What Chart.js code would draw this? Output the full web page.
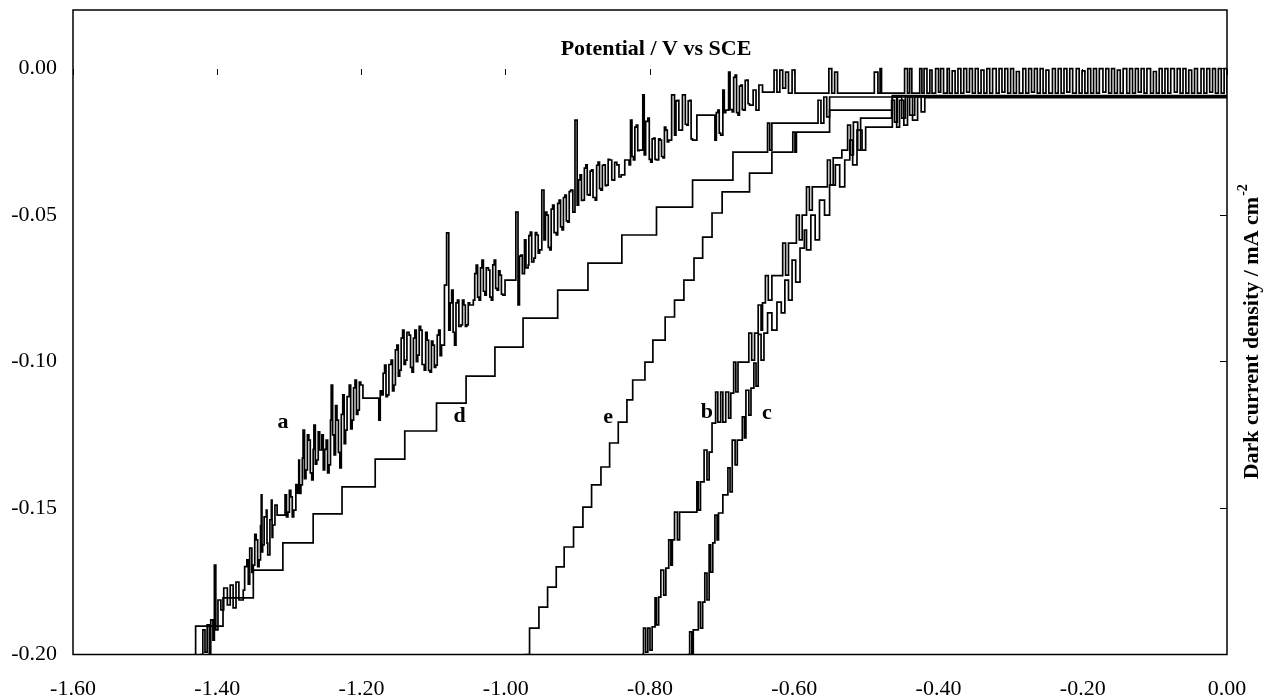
<!DOCTYPE html>
<html>
<head>
<meta charset="utf-8">
<script src="https://cdn.jsdelivr.net/npm/chart.js@4.4.1/dist/chart.umd.min.js"></script>
<style>
  html, body { margin: 0; padding: 0; background: #fff; }
  #wrap { width: 1267px; height: 700px; }
</style>
</head>
<body>
<div id="wrap"><canvas id="chart" width="1267" height="700"></canvas></div>
<script>
// potential (V vs SCE), current density (mA cm-2)
const curveA = [
  [-1.424, -0.2000], [-1.420, -0.1916], [-1.417, -0.1992], [-1.414, -0.1899], [-1.411, -0.1995],
  [-1.409, -0.1882], [-1.406, -0.1951], [-1.404, -0.1695], [-1.402, -0.1916], [-1.399, -0.1814],
  [-1.395, -0.1848], [-1.391, -0.1773], [-1.386, -0.1831], [-1.382, -0.1763], [-1.378, -0.1841],
  [-1.374, -0.1753], [-1.370, -0.1814], [-1.364, -0.1780], [-1.362, -0.1700], [-1.359, -0.1677],
  [-1.357, -0.1760], [-1.355, -0.1637], [-1.352, -0.1720], [-1.350, -0.1695], [-1.348, -0.1590],
  [-1.346, -0.1609], [-1.344, -0.1700], [-1.342, -0.1677], [-1.340, -0.1560], [-1.339, -0.1455],
  [-1.338, -0.1650], [-1.337, -0.1626], [-1.335, -0.1530], [-1.332, -0.1507], [-1.331, -0.1620],
  [-1.330, -0.1660], [-1.327, -0.1540], [-1.325, -0.1473], [-1.324, -0.1600], [-1.323, -0.1558],
  [-1.320, -0.1490], [-1.317, -0.1524], [-1.309, -0.1524], [-1.306, -0.1455], [-1.304, -0.1530],
  [-1.302, -0.1514], [-1.300, -0.1440], [-1.298, -0.1462], [-1.296, -0.1530], [-1.294, -0.1507],
  [-1.291, -0.1420], [-1.289, -0.1449], [-1.287, -0.1336], [-1.286, -0.1450], [-1.284, -0.1421],
  [-1.282, -0.1330], [-1.281, -0.1234], [-1.279, -0.1400], [-1.277, -0.1370], [-1.275, -0.1250],
  [-1.273, -0.1268], [-1.271, -0.1380], [-1.269, -0.1404], [-1.267, -0.1300], [-1.266, -0.1217],
  [-1.264, -0.1350], [-1.262, -0.1336], [-1.260, -0.1240], [-1.258, -0.1302], [-1.255, -0.1250],
  [-1.253, -0.1370], [-1.251, -0.1300], [-1.249, -0.1268], [-1.247, -0.1380], [-1.245, -0.1353],
  [-1.243, -0.1200], [-1.242, -0.1080], [-1.240, -0.1250], [-1.238, -0.1319], [-1.236, -0.1150],
  [-1.234, -0.1200], [-1.232, -0.1310], [-1.230, -0.1363], [-1.228, -0.1180], [-1.226, -0.1114],
  [-1.224, -0.1280], [-1.222, -0.1234], [-1.220, -0.1120], [-1.217, -0.1080], [-1.215, -0.1230],
  [-1.213, -0.1200], [-1.211, -0.1090], [-1.209, -0.1063], [-1.207, -0.1180], [-1.205, -0.1166],
  [-1.203, -0.1070], [-1.201, -0.1080], [-1.198, -0.1125], [-1.179, -0.1125], [-1.176, -0.1200],
  [-1.174, -0.1100], [-1.172, -0.1114], [-1.170, -0.1040], [-1.168, -0.1012], [-1.166, -0.1120],
  [-1.164, -0.1114], [-1.162, -0.1010], [-1.159, -0.0995], [-1.157, -0.1100], [-1.155, -0.1080],
  [-1.153, -0.0960], [-1.151, -0.0944], [-1.149, -0.1050], [-1.147, -0.1029], [-1.145, -0.0920],
  [-1.143, -0.0893], [-1.141, -0.1010], [-1.139, -0.0995], [-1.137, -0.0900], [-1.134, -0.0910],
  [-1.132, -0.1020], [-1.130, -0.1036], [-1.128, -0.0920], [-1.126, -0.0893], [-1.124, -0.1000],
  [-1.122, -0.0978], [-1.120, -0.0880], [-1.118, -0.0893], [-1.116, -0.1010], [-1.113, -0.1029],
  [-1.111, -0.0900], [-1.109, -0.0927], [-1.107, -0.1030], [-1.105, -0.1036], [-1.103, -0.0930],
  [-1.101, -0.0944], [-1.099, -0.1020], [-1.097, -0.1012], [-1.095, -0.0910], [-1.093, -0.0893],
  [-1.091, -0.0980], [-1.089, -0.0944], [-1.085, -0.0739], [-1.082, -0.0561], [-1.079, -0.0893],
  [-1.077, -0.0800], [-1.075, -0.0756], [-1.073, -0.0900], [-1.071, -0.0944], [-1.069, -0.0800],
  [-1.067, -0.0790], [-1.065, -0.0880], [-1.062, -0.0875], [-1.060, -0.0790], [-1.058, -0.0807],
  [-1.056, -0.0880], [-1.054, -0.0875], [-1.052, -0.0800], [-1.050, -0.0807], [-1.045, -0.0790],
  [-1.043, -0.0700], [-1.041, -0.0671], [-1.039, -0.0780], [-1.037, -0.0790], [-1.035, -0.0680],
  [-1.033, -0.0654], [-1.031, -0.0760], [-1.029, -0.0773], [-1.027, -0.0680], [-1.024, -0.0688],
  [-1.022, -0.0780], [-1.020, -0.0790], [-1.018, -0.0670], [-1.016, -0.0654], [-1.014, -0.0750],
  [-1.012, -0.0756], [-1.010, -0.0690], [-1.008, -0.0705], [-1.006, -0.0770], [-1.004, -0.0773],
  [-1.001, -0.0722], [-0.987, -0.0722], [-0.986, -0.0490], [-0.983, -0.0807], [-0.981, -0.0640],
  [-0.979, -0.0637], [-0.977, -0.0700], [-0.974, -0.0585], [-0.972, -0.0680], [-0.969, -0.0671],
  [-0.968, -0.0570], [-0.966, -0.0558], [-0.964, -0.0660], [-0.961, -0.0647], [-0.959, -0.0560],
  [-0.957, -0.0568], [-0.955, -0.0630], [-0.953, -0.0619], [-0.950, -0.0415], [-0.947, -0.0585],
  [-0.945, -0.0490], [-0.943, -0.0500], [-0.941, -0.0610], [-0.939, -0.0619], [-0.937, -0.0480],
  [-0.935, -0.0466], [-0.933, -0.0560], [-0.930, -0.0568], [-0.928, -0.0460], [-0.926, -0.0449],
  [-0.924, -0.0540], [-0.922, -0.0551], [-0.920, -0.0440], [-0.918, -0.0432], [-0.916, -0.0520],
  [-0.914, -0.0524], [-0.912, -0.0420], [-0.910, -0.0415], [-0.907, -0.0490], [-0.904, -0.0176],
  [-0.901, -0.0466], [-0.899, -0.0380], [-0.897, -0.0363], [-0.895, -0.0450], [-0.893, -0.0449],
  [-0.891, -0.0340], [-0.889, -0.0329], [-0.887, -0.0430], [-0.885, -0.0432], [-0.883, -0.0350],
  [-0.881, -0.0346], [-0.879, -0.0440], [-0.876, -0.0449], [-0.874, -0.0330], [-0.872, -0.0319],
  [-0.870, -0.0410], [-0.868, -0.0415], [-0.866, -0.0330], [-0.864, -0.0329], [-0.862, -0.0400],
  [-0.860, -0.0398], [-0.858, -0.0310], [-0.856, -0.0312], [-0.853, -0.0380], [-0.851, -0.0381],
  [-0.849, -0.0320], [-0.846, -0.0329], [-0.843, -0.0370], [-0.840, -0.0363], [-0.835, -0.0312],
  [-0.829, -0.0329], [-0.827, -0.0176], [-0.825, -0.0300], [-0.823, -0.0312], [-0.821, -0.0200],
  [-0.819, -0.0193], [-0.817, -0.0280], [-0.815, -0.0278], [-0.810, -0.0090], [-0.808, -0.0295],
  [-0.806, -0.0180], [-0.803, -0.0169], [-0.801, -0.0310], [-0.799, -0.0319], [-0.797, -0.0240],
  [-0.795, -0.0237], [-0.793, -0.0310], [-0.791, -0.0312], [-0.788, -0.0240], [-0.786, -0.0244],
  [-0.784, -0.0300], [-0.782, -0.0305], [-0.780, -0.0200], [-0.778, -0.0210], [-0.776, -0.0250],
  [-0.774, -0.0244], [-0.770, -0.0090], [-0.766, -0.0227], [-0.764, -0.0110], [-0.762, -0.0108],
  [-0.760, -0.0210], [-0.757, -0.0210], [-0.755, -0.0090], [-0.753, -0.0090], [-0.751, -0.0190],
  [-0.749, -0.0193], [-0.747, -0.0110], [-0.745, -0.0108], [-0.743, -0.0240], [-0.741, -0.0244],
  [-0.735, -0.0159], [-0.713, -0.0159], [-0.710, -0.0244], [-0.708, -0.0150], [-0.706, -0.0142],
  [-0.704, -0.0220], [-0.702, -0.0227], [-0.699, -0.0073], [-0.697, -0.0150], [-0.695, -0.0142],
  [-0.691, -0.0012], [-0.689, -0.0140], [-0.686, -0.0148], [-0.684, -0.0030], [-0.682, -0.0022],
  [-0.680, -0.0150], [-0.678, -0.0159], [-0.676, -0.0060], [-0.674, -0.0056], [-0.672, -0.0140],
  [-0.670, -0.0142], [-0.668, -0.0040], [-0.666, -0.0039], [-0.664, -0.0120], [-0.662, -0.0125],
  [-0.657, -0.0073], [-0.653, -0.0142], [-0.649, -0.0056], [-0.644, -0.0080], [-0.631, -0.0080],
  [-0.628, -0.0005], [-0.624, -0.0080], [-0.620, -0.0005], [-0.616, -0.0067], [-0.612, -0.0012],
  [-0.608, -0.0084], [-0.603, -0.0005], [-0.599, -0.0084], [-0.555, -0.0084], [-0.552, 0.0000],
  [-0.548, -0.0084], [-0.544, -0.0012], [-0.540, -0.0084], [-0.491, -0.0084], [-0.489, -0.0012],
  [-0.484, -0.0084], [-0.481, 0.0000], [-0.479, -0.0084], [-0.450, -0.0084], [-0.447, 0.0000],
  [-0.443, -0.0084], [-0.440, 0.0000], [-0.437, -0.0084], [-0.426, 0.0000], [-0.423, -0.0084],
  [-0.420, 0.0000], [-0.416, -0.0084], [-0.412, -0.0005], [-0.409, -0.0084], [-0.404, 0.0000],
  [-0.400, -0.0080], [-0.397, 0.0000], [-0.393, -0.0084], [-0.388, 0.0000], [-0.385, -0.0084],
  [-0.381, -0.0008], [-0.377, -0.0084], [-0.373, 0.0000], [-0.369, -0.0084], [-0.365, 0.0000],
  [-0.361, -0.0080], [-0.357, 0.0000], [-0.353, -0.0084], [-0.349, 0.0000], [-0.345, -0.0084],
  [-0.341, -0.0005], [-0.337, -0.0084], [-0.333, 0.0000], [-0.329, -0.0084], [-0.325, 0.0000],
  [-0.320, -0.0084], [-0.316, 0.0000], [-0.312, -0.0080], [-0.308, 0.0000], [-0.304, -0.0084],
  [-0.300, 0.0000], [-0.296, -0.0084], [-0.292, -0.0010], [-0.288, -0.0084], [-0.283, 0.0000],
  [-0.279, -0.0084], [-0.275, 0.0000], [-0.271, -0.0080], [-0.267, 0.0000], [-0.263, -0.0084],
  [-0.259, 0.0000], [-0.255, -0.0084], [-0.251, -0.0005], [-0.247, -0.0084], [-0.242, 0.0000],
  [-0.238, -0.0084], [-0.234, 0.0000], [-0.230, -0.0084], [-0.226, 0.0000], [-0.222, -0.0080],
  [-0.218, 0.0000], [-0.214, -0.0084], [-0.209, 0.0000], [-0.205, -0.0084], [-0.201, -0.0008],
  [-0.197, -0.0084], [-0.193, 0.0000], [-0.189, -0.0084], [-0.185, 0.0000], [-0.181, -0.0084],
  [-0.177, 0.0000], [-0.172, -0.0080], [-0.168, 0.0000], [-0.164, -0.0084], [-0.160, 0.0000],
  [-0.156, -0.0084], [-0.152, -0.0005], [-0.148, -0.0084], [-0.144, 0.0000], [-0.139, -0.0084],
  [-0.135, 0.0000], [-0.131, -0.0084], [-0.127, 0.0000], [-0.123, -0.0080], [-0.119, 0.0000],
  [-0.115, -0.0084], [-0.111, 0.0000], [-0.106, -0.0084], [-0.102, -0.0010], [-0.098, -0.0084],
  [-0.094, 0.0000], [-0.090, -0.0084], [-0.086, 0.0000], [-0.082, -0.0084], [-0.078, 0.0000],
  [-0.073, -0.0080], [-0.069, 0.0000], [-0.065, -0.0084], [-0.061, 0.0000], [-0.057, -0.0084],
  [-0.053, -0.0005], [-0.049, -0.0084], [-0.045, 0.0000], [-0.041, -0.0084], [-0.036, 0.0000],
  [-0.032, -0.0084], [-0.028, 0.0000], [-0.024, -0.0080], [-0.020, 0.0000], [-0.016, -0.0084],
  [-0.012, 0.0000], [-0.008, -0.0084], [-0.004, 0.0000], [0.000, -0.0084]
];

const curveB = [
  [-0.811, -0.2000], [-0.809, -0.1910], [-0.806, -0.1992], [-0.803, -0.1910], [-0.800, -0.1985],
  [-0.797, -0.1906], [-0.793, -0.1807], [-0.791, -0.1899], [-0.788, -0.1804], [-0.785, -0.1712],
  [-0.781, -0.1797], [-0.778, -0.1705], [-0.774, -0.1609], [-0.771, -0.1695], [-0.769, -0.1609],
  [-0.766, -0.1514], [-0.762, -0.1609], [-0.759, -0.1514], [-0.735, -0.1411], [-0.733, -0.1507],
  [-0.730, -0.1411], [-0.725, -0.1302], [-0.721, -0.1404], [-0.718, -0.1309], [-0.714, -0.1210],
  [-0.709, -0.1104], [-0.706, -0.1207], [-0.702, -0.1104], [-0.699, -0.1207], [-0.695, -0.1104],
  [-0.691, -0.1193], [-0.688, -0.1108], [-0.684, -0.1002], [-0.681, -0.1104], [-0.678, -0.1002],
  [-0.663, -0.0903], [-0.659, -0.0995], [-0.655, -0.0903], [-0.650, -0.0807], [-0.646, -0.0893],
  [-0.644, -0.0800], [-0.640, -0.0707], [-0.636, -0.0790], [-0.631, -0.0707], [-0.616, -0.0596],
  [-0.612, -0.0705], [-0.608, -0.0596], [-0.597, -0.0500], [-0.593, -0.0585], [-0.589, -0.0500],
  [-0.583, -0.0404], [-0.579, -0.0483], [-0.575, -0.0404], [-0.554, -0.0312], [-0.550, -0.0398],
  [-0.546, -0.0305], [-0.534, -0.0278], [-0.526, -0.0193], [-0.522, -0.0295], [-0.518, -0.0183],
  [-0.512, -0.0278], [-0.508, -0.0169], [-0.465, -0.0108], [-0.461, -0.0183], [-0.457, -0.0097],
  [-0.451, -0.0169], [-0.446, -0.0094], [-0.440, -0.0159], [-0.433, -0.0096], [0.000, -0.0096]
];

const curveC = [
  [-0.748, -0.2000], [-0.745, -0.1923], [-0.742, -0.2000], [-0.740, -0.1916], [-0.733, -0.1821],
  [-0.730, -0.1910], [-0.727, -0.1821], [-0.724, -0.1722], [-0.721, -0.1814], [-0.718, -0.1626],
  [-0.716, -0.1719], [-0.713, -0.1619], [-0.710, -0.1524], [-0.707, -0.1609], [-0.705, -0.1517],
  [-0.699, -0.1455], [-0.692, -0.1363], [-0.689, -0.1445], [-0.686, -0.1268], [-0.682, -0.1353],
  [-0.679, -0.1268], [-0.672, -0.1189], [-0.669, -0.1261], [-0.667, -0.1098], [-0.663, -0.1183],
  [-0.660, -0.1091], [-0.656, -0.1005], [-0.653, -0.1084], [-0.650, -0.0907], [-0.646, -0.0995],
  [-0.642, -0.0903], [-0.637, -0.0834], [-0.631, -0.0893], [-0.624, -0.0797], [-0.618, -0.0834],
  [-0.613, -0.0722], [-0.608, -0.0790], [-0.603, -0.0654], [-0.598, -0.0729], [-0.592, -0.0613],
  [-0.586, -0.0551], [-0.583, -0.0619], [-0.577, -0.0500], [-0.571, -0.0585], [-0.565, -0.0449],
  [-0.558, -0.0500], [-0.551, -0.0398], [-0.543, -0.0329], [-0.537, -0.0404], [-0.530, -0.0312],
  [-0.523, -0.0244], [-0.519, -0.0329], [-0.513, -0.0210], [-0.506, -0.0278], [-0.501, -0.0200],
  [-0.464, -0.0097], [-0.458, -0.0200], [-0.454, -0.0108], [-0.448, -0.0193], [-0.443, -0.0097],
  [-0.436, -0.0176], [-0.429, -0.0097], [-0.424, -0.0148], [-0.419, -0.0099], [0.000, -0.0099]
];

const curveD = [
  [-1.431, -0.2000], [-1.430, -0.1903], [-1.392, -0.1807], [-1.350, -0.1712], [-1.309, -0.1619],
  [-1.267, -0.1520], [-1.227, -0.1428], [-1.181, -0.1333], [-1.140, -0.1237], [-1.096, -0.1142],
  [-1.055, -0.1050], [-1.015, -0.0951], [-0.976, -0.0852], [-0.928, -0.0756], [-0.886, -0.0664],
  [-0.839, -0.0568], [-0.791, -0.0473], [-0.741, -0.0381], [-0.685, -0.0285], [-0.637, -0.0186],
  [-0.634, -0.0278], [-0.631, -0.0186], [-0.567, -0.0108], [-0.563, -0.0186], [-0.559, -0.0097],
  [-0.555, -0.0165], [-0.551, -0.0097], [0.000, -0.0097]
];

const curveE = [
  [-0.974, -0.2000], [-0.967, -0.1910], [-0.954, -0.1838], [-0.942, -0.1770], [-0.930, -0.1701],
  [-0.919, -0.1633], [-0.906, -0.1565], [-0.893, -0.1497], [-0.881, -0.1421], [-0.868, -0.1360],
  [-0.856, -0.1278], [-0.844, -0.1207], [-0.832, -0.1131], [-0.824, -0.1063], [-0.807, -0.1002],
  [-0.796, -0.0927], [-0.779, -0.0848], [-0.766, -0.0790], [-0.753, -0.0722], [-0.739, -0.0647],
  [-0.727, -0.0575], [-0.714, -0.0493], [-0.700, -0.0421], [-0.662, -0.0357], [-0.631, -0.0285],
  [-0.602, -0.0217], [-0.599, -0.0285], [-0.597, -0.0217], [-0.551, -0.0142], [-0.464, -0.0092],
  [0.000, -0.0092]
];

const curveNames = ['a', 'b', 'c', 'd', 'e'];
const labelPotential = [-1.309, -0.721, -0.638, -1.064, -0.858];
const labelCurrent = [-0.1207, -0.1172, -0.1176, -0.1186, -0.1189];

const xTitle = 'Potential / V vs SCE';
const yTitle = 'Dark current density / mA cm';
const yTitleSup = '-2';

const serif = '"Liberation Serif", "Times New Roman", serif';

function toPoints(rows) {
  return rows.map(([x, y]) => ({ x: x, y: y }));
}

function fmt(v) {
  return (Math.abs(v) < 1e-9 ? 0 : v).toFixed(2);
}

const decor = {
  id: 'decor',
  afterDraw(chart) {
    const { ctx, chartArea, scales } = chart;
    ctx.save();
    ctx.strokeStyle = '#000';
    ctx.lineWidth = 1.5;
    ctx.strokeRect(chartArea.left, chartArea.top, chartArea.right - chartArea.left, chartArea.bottom - chartArea.top);

    ctx.fillStyle = '#000';
    ctx.font = 'bold 22px ' + serif;
    ctx.textAlign = 'center';
    ctx.textBaseline = 'alphabetic';
    ctx.fillText(xTitle, (chartArea.left + chartArea.right) / 2 + 6, scales.y.getPixelForValue(0) - 14);

    ctx.textBaseline = 'middle';
    curveNames.forEach((name, i) => {
      ctx.fillText(name, scales.x.getPixelForValue(labelPotential[i]), scales.y.getPixelForValue(labelCurrent[i]));
    });

    // right-hand axis title with superscript
    ctx.translate(chartArea.right + 23, scales.y.getPixelForValue(-0.09));
    ctx.rotate(-Math.PI / 2);
    ctx.font = 'bold 22px ' + serif;
    const w1 = ctx.measureText(yTitle).width;
    ctx.font = 'bold 14px ' + serif;
    const w2 = ctx.measureText(yTitleSup).width;
    const start = -(w1 + w2) / 2;
    ctx.textAlign = 'left';
    ctx.textBaseline = 'alphabetic';
    ctx.font = 'bold 22px ' + serif;
    ctx.fillText(yTitle, start, 8);
    ctx.font = 'bold 14px ' + serif;
    ctx.fillText(yTitleSup, start + w1 + 1, -3);
    ctx.restore();
  }
};

function lineSet(rows) {
  return {
    data: toPoints(rows),
    borderColor: '#000',
    borderWidth: 1.7,
    pointRadius: 0,
    fill: false,
    stepped: true
  };
}

function noPad(s) {
  s.paddingTop = 0;
  s.paddingBottom = 0;
  s.paddingLeft = 0;
  s.paddingRight = 0;
}

Chart.defaults.font.family = serif;
Chart.defaults.color = '#000';

new Chart(document.getElementById('chart'), {
  type: 'line',
  data: {
    datasets: [lineSet(curveA), lineSet(curveB), lineSet(curveC), lineSet(curveD), lineSet(curveE)]
  },
  options: {
    responsive: false,
    animation: false,
    layout: { padding: { top: 10, left: 0, right: 0, bottom: 0 } },
    plugins: { legend: { display: false }, tooltip: { enabled: false } },
    scales: {
      x: {
        type: 'linear',
        position: 'bottom',
        min: -1.6,
        max: 0,
        grid: { display: false, drawTicks: false },
        border: { display: false },
        ticks: { stepSize: 0.2, padding: 22, font: { size: 22 }, color: '#000', callback: v => fmt(v) },
        afterFit: s => { s.height = 45.5; noPad(s); }
      },
      x2: {
        type: 'linear',
        axis: 'x',
        position: { y: 0 },
        min: -1.6,
        max: 0,
        grid: { drawOnChartArea: false, drawTicks: true, tickLength: 6, color: '#000', lineWidth: 1 },
        border: { display: false },
        ticks: { display: false, stepSize: 0.2 },
        afterFit: s => { s.height = 0; noPad(s); }
      },
      y: {
        type: 'linear',
        position: 'left',
        min: -0.2,
        max: 0.02,
        grid: { display: false, drawTicks: false },
        border: { display: false },
        ticks: { stepSize: 0.05, padding: 16, font: { size: 22 }, color: '#000', callback: v => fmt(v) },
        afterBuildTicks: s => { s.ticks = s.ticks.filter(t => t.value <= 1e-9); },
        afterFit: s => { s.width = 73; noPad(s); }
      },
      y2: {
        type: 'linear',
        axis: 'y',
        position: 'right',
        min: -0.2,
        max: 0.02,
        grid: { drawOnChartArea: false, drawTicks: true, tickLength: -7, color: '#000', lineWidth: 1 },
        border: { display: false },
        ticks: { display: false, stepSize: 0.05 },
        afterBuildTicks: s => { s.ticks = s.ticks.filter(t => t.value <= 1e-9); },
        afterFit: s => { s.width = 40; noPad(s); }
      }
    }
  },
  plugins: [decor]
});
</script>
</body>
</html>
